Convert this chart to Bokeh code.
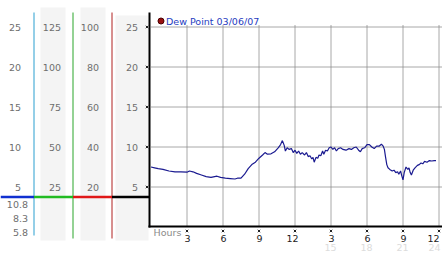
from bokeh.plotting import figure
from bokeh.models import Range1d
from bokeh.core.properties import value
from bokeh.embed import file_html
from bokeh.resources import INLINE

# ---------------- data ----------------
hours = [0.0, 0.3, 0.6, 1.0, 1.5, 2.0, 2.5, 3.0, 3.2, 3.5, 3.8, 4.2, 4.6, 5.0, 5.3, 5.5, 5.8,
         6.2, 6.6, 7.0, 7.2, 7.5, 7.8, 8.1, 8.4, 8.7, 9.0, 9.3, 9.5, 9.7, 10.0, 10.3, 10.6,
         10.8, 10.95, 11.1, 11.2, 11.35, 11.5, 11.7, 11.85, 12.0, 12.15, 12.3, 12.45, 12.6,
         12.8, 12.95, 13.1, 13.25, 13.4, 13.5, 13.6, 13.75, 13.9, 14.0, 14.15, 14.3, 14.4,
         14.55, 14.7, 14.85, 15.0, 15.15, 15.3, 15.45, 15.6, 15.8, 16.0, 16.25, 16.5, 16.7,
         16.9, 17.1, 17.3, 17.45, 17.6, 17.8, 18.0, 18.2, 18.4, 18.6, 18.8, 19.0, 19.2, 19.35,
         19.45, 19.55, 19.65, 19.75, 19.9, 20.1, 20.25, 20.4, 20.55, 20.65, 20.8, 20.9, 21.0,
         21.1, 21.25, 21.4, 21.5, 21.6, 21.7, 21.85, 22.0, 22.2, 22.35, 22.5, 22.65, 22.8,
         23.0, 23.2, 23.4, 23.6, 23.75]
dew_point = [7.5, 7.4, 7.3, 7.2, 7.0, 6.9, 6.9, 6.85, 7.0, 6.9, 6.7, 6.5, 6.3, 6.2, 6.3, 6.35,
             6.2, 6.1, 6.05, 6.0, 6.1, 6.1, 6.6, 7.3, 7.8, 8.1, 8.6, 9.0, 9.3, 9.1, 9.15, 9.4,
             9.9, 10.3, 10.8, 10.2, 9.5, 9.9, 9.7, 9.8, 9.3, 9.6, 9.2, 9.5, 9.1, 9.3, 9.0, 9.3,
             8.8, 8.9, 8.5, 8.7, 8.1, 8.7, 8.6, 9.0, 8.9, 9.5, 9.1, 9.6, 9.5, 9.9, 10.0, 9.7,
             9.9, 9.5, 9.8, 9.9, 9.7, 9.6, 9.8, 9.7, 9.9, 10.0, 9.6, 9.4, 9.8, 9.9, 10.3, 10.3,
             10.0, 9.8, 10.1, 10.1, 10.35, 10.1, 9.7, 8.7, 7.8, 7.4, 7.2, 7.0, 7.1, 6.8, 6.9,
             6.6, 7.0, 6.4, 5.9, 6.8, 7.5, 7.2, 7.4, 6.8, 6.5, 7.1, 7.4, 7.7, 7.8, 8.0, 7.9,
             8.2, 8.1, 8.3, 8.25, 8.3, 8.3]

legend_label = "Dew Point 03/06/07"
y_tick_values = [5, 10, 15, 20, 25]
col1_labels = [25, 20, 15, 10, 5]
col2_labels = [125, 100, 75, 50, 25]
col3_labels = [100, 80, 60, 40, 20]
col4_labels = [25, 20, 15, 10, 5]
col1_extra = [10.8, 8.3, 5.8]
x_tick_hours = [3, 6, 9, 12, 15, 18, 21, 24]
x_tick_labels = ["3", "6", "9", "12", "3", "6", "9", "12"]
x_sub_hours = [15, 18, 21, 24]
x_sub_labels = ["15", "18", "21", "24"]
marker_level = 3.75

# ---------------- layout / style ----------------
W, H = 442, 253
PX_PER_H = 12.0
X0 = 150.5          # pixel of hour 0
PX_PER_V = 8.0
Y0 = 226.5          # pixel of value 0

FONT = value("DejaVu Sans")
GRAY_TXT = "#6e6e6e"
GRID = "#8c8c8c"

p = figure(width=W, height=H, output_backend="svg", toolbar_location=None,
           x_range=Range1d(-X0 / PX_PER_H, (W - X0) / PX_PER_H),
           y_range=Range1d(-(H - Y0) / PX_PER_V, Y0 / PX_PER_V),
           x_axis_location=None, y_axis_location=None,
           min_border=0, border_fill_color="white", background_fill_color="white",
           outline_line_color=None)
p.xgrid.visible = False
p.ygrid.visible = False
p.extra_x_ranges = {"px": Range1d(0, W)}
p.extra_y_ranges = {"py": Range1d(H, 0)}

# gray bands of the scale columns
p.quad(left=[40, 80], right=[65, 105], top=[7, 7], bottom=[240, 240],
       fill_color="#f4f4f4", line_color=None, x_range_name="px", y_range_name="py")
p.quad(left=[115], right=[148], top=[15], bottom=[240],
       fill_color="#f4f4f4", line_color=None, x_range_name="px", y_range_name="py")

# gridlines as multi_line
xmax = (W - X0) / PX_PER_H
grid_xs = [[0.0, xmax] for v in y_tick_values] + [[h, h] for h in x_tick_hours]
grid_ys = [[v, v] for v in y_tick_values] + [[0.0, 25.25] for h in x_tick_hours]
p.multi_line(xs=grid_xs, ys=grid_ys, line_color=GRID, line_width=1, line_alpha=0.75)

# colored vertical scale lines
p.segment(x0=[33.5, 72.5, 111.5], x1=[33.5, 72.5, 111.5], y0=[12, 12, 12], y1=[235, 238, 238],
          line_color=["#2a9fd0", "#2aa52a", "#b02020"], line_width=1,
          x_range_name="px", y_range_name="py")

# marker level line across the scale columns
p.segment(x0=[0, 33.5, 72.5, 111.5], x1=[33.5, 72.5, 111.5, 149],
          y0=[marker_level] * 4, y1=[marker_level] * 4,
          line_color=["#1030d0", "#22bb22", "#e01818", "#000000"], line_width=2.5,
          x_range_name="px")

# data line
p.line(hours, dew_point, line_color="#1a1a90", line_width=1.2)

# main axis lines
p.line(x=[149, 149], y=[12, 227], line_color="black", line_width=2,
       x_range_name="px", y_range_name="py")
p.line(x=[148, W], y=[226, 226], line_color="black", line_width=2,
       x_range_name="px", y_range_name="py")

# tick marks
n_y = len(y_tick_values)
n_x = len(x_tick_hours)
p.scatter(x=[146.5] * n_y, y=list(y_tick_values), marker="x", size=3.5,
          line_color="#222222", line_width=1, x_range_name="px")
p.scatter(x=list(x_tick_hours), y=[230.5] * n_x, marker="x", size=3.5,
          line_color="#222222", line_width=1, y_range_name="py")

# scale column labels
for labels, factor, xr in [(col1_labels, 1, 20.5), (col2_labels, 5, 60.5),
                           (col3_labels, 4, 98.5), (col4_labels, 1, 137.5)]:
    p.text(x=[xr] * len(labels), y=[v / factor for v in labels],
           text=[str(v) for v in labels], text_font=FONT, text_font_size="9.5px",
           text_color=GRAY_TXT, text_align="right", text_baseline="middle",
           x_range_name="px")
p.text(x=[27.5] * len(col1_extra), y=[(v - 6.81) * 0.7 for v in col1_extra],
       text=[str(v) for v in col1_extra], text_font=FONT, text_font_size="9.5px",
       text_color=GRAY_TXT, text_align="right", text_baseline="middle", x_range_name="px")

# x labels: last digit sits under the tick
xl = [min(h + 3.5 / PX_PER_H, (W - 3 - X0) / PX_PER_H) for h in x_tick_hours]
p.text(x=xl, y=[238] * n_x, text=x_tick_labels, text_font=FONT,
       text_font_size="9.5px", text_color="#222222", text_align="right",
       text_baseline="middle", y_range_name="py")
xs = [min(h + 5.5 / PX_PER_H, (W - 2 - X0) / PX_PER_H) for h in x_sub_hours]
p.text(x=xs, y=[246.5] * len(x_sub_hours), text=x_sub_labels, text_font=FONT,
       text_font_size="9.5px", text_color="#dcdcdc", text_align="right",
       text_baseline="middle", y_range_name="py")
p.text(x=[153], y=[231.5], text=["Hours"], text_font=FONT, text_font_size="9.5px",
       text_color="#8a8a8a", text_align="left", text_baseline="middle",
       x_range_name="px", y_range_name="py")

# legend
p.scatter(x=[160.5], y=[20.5], marker="circle", size=6, fill_color="#9a1010",
          line_color="#4a0000", line_width=1, x_range_name="px", y_range_name="py")
p.text(x=[165.5], y=[20.5], text=[legend_label], text_font=FONT, text_font_size="9.5px",
       text_color="#1f3cbf", text_align="left", text_baseline="middle",
       x_range_name="px", y_range_name="py")

open("out.html", "w").write(file_html(p, INLINE))
